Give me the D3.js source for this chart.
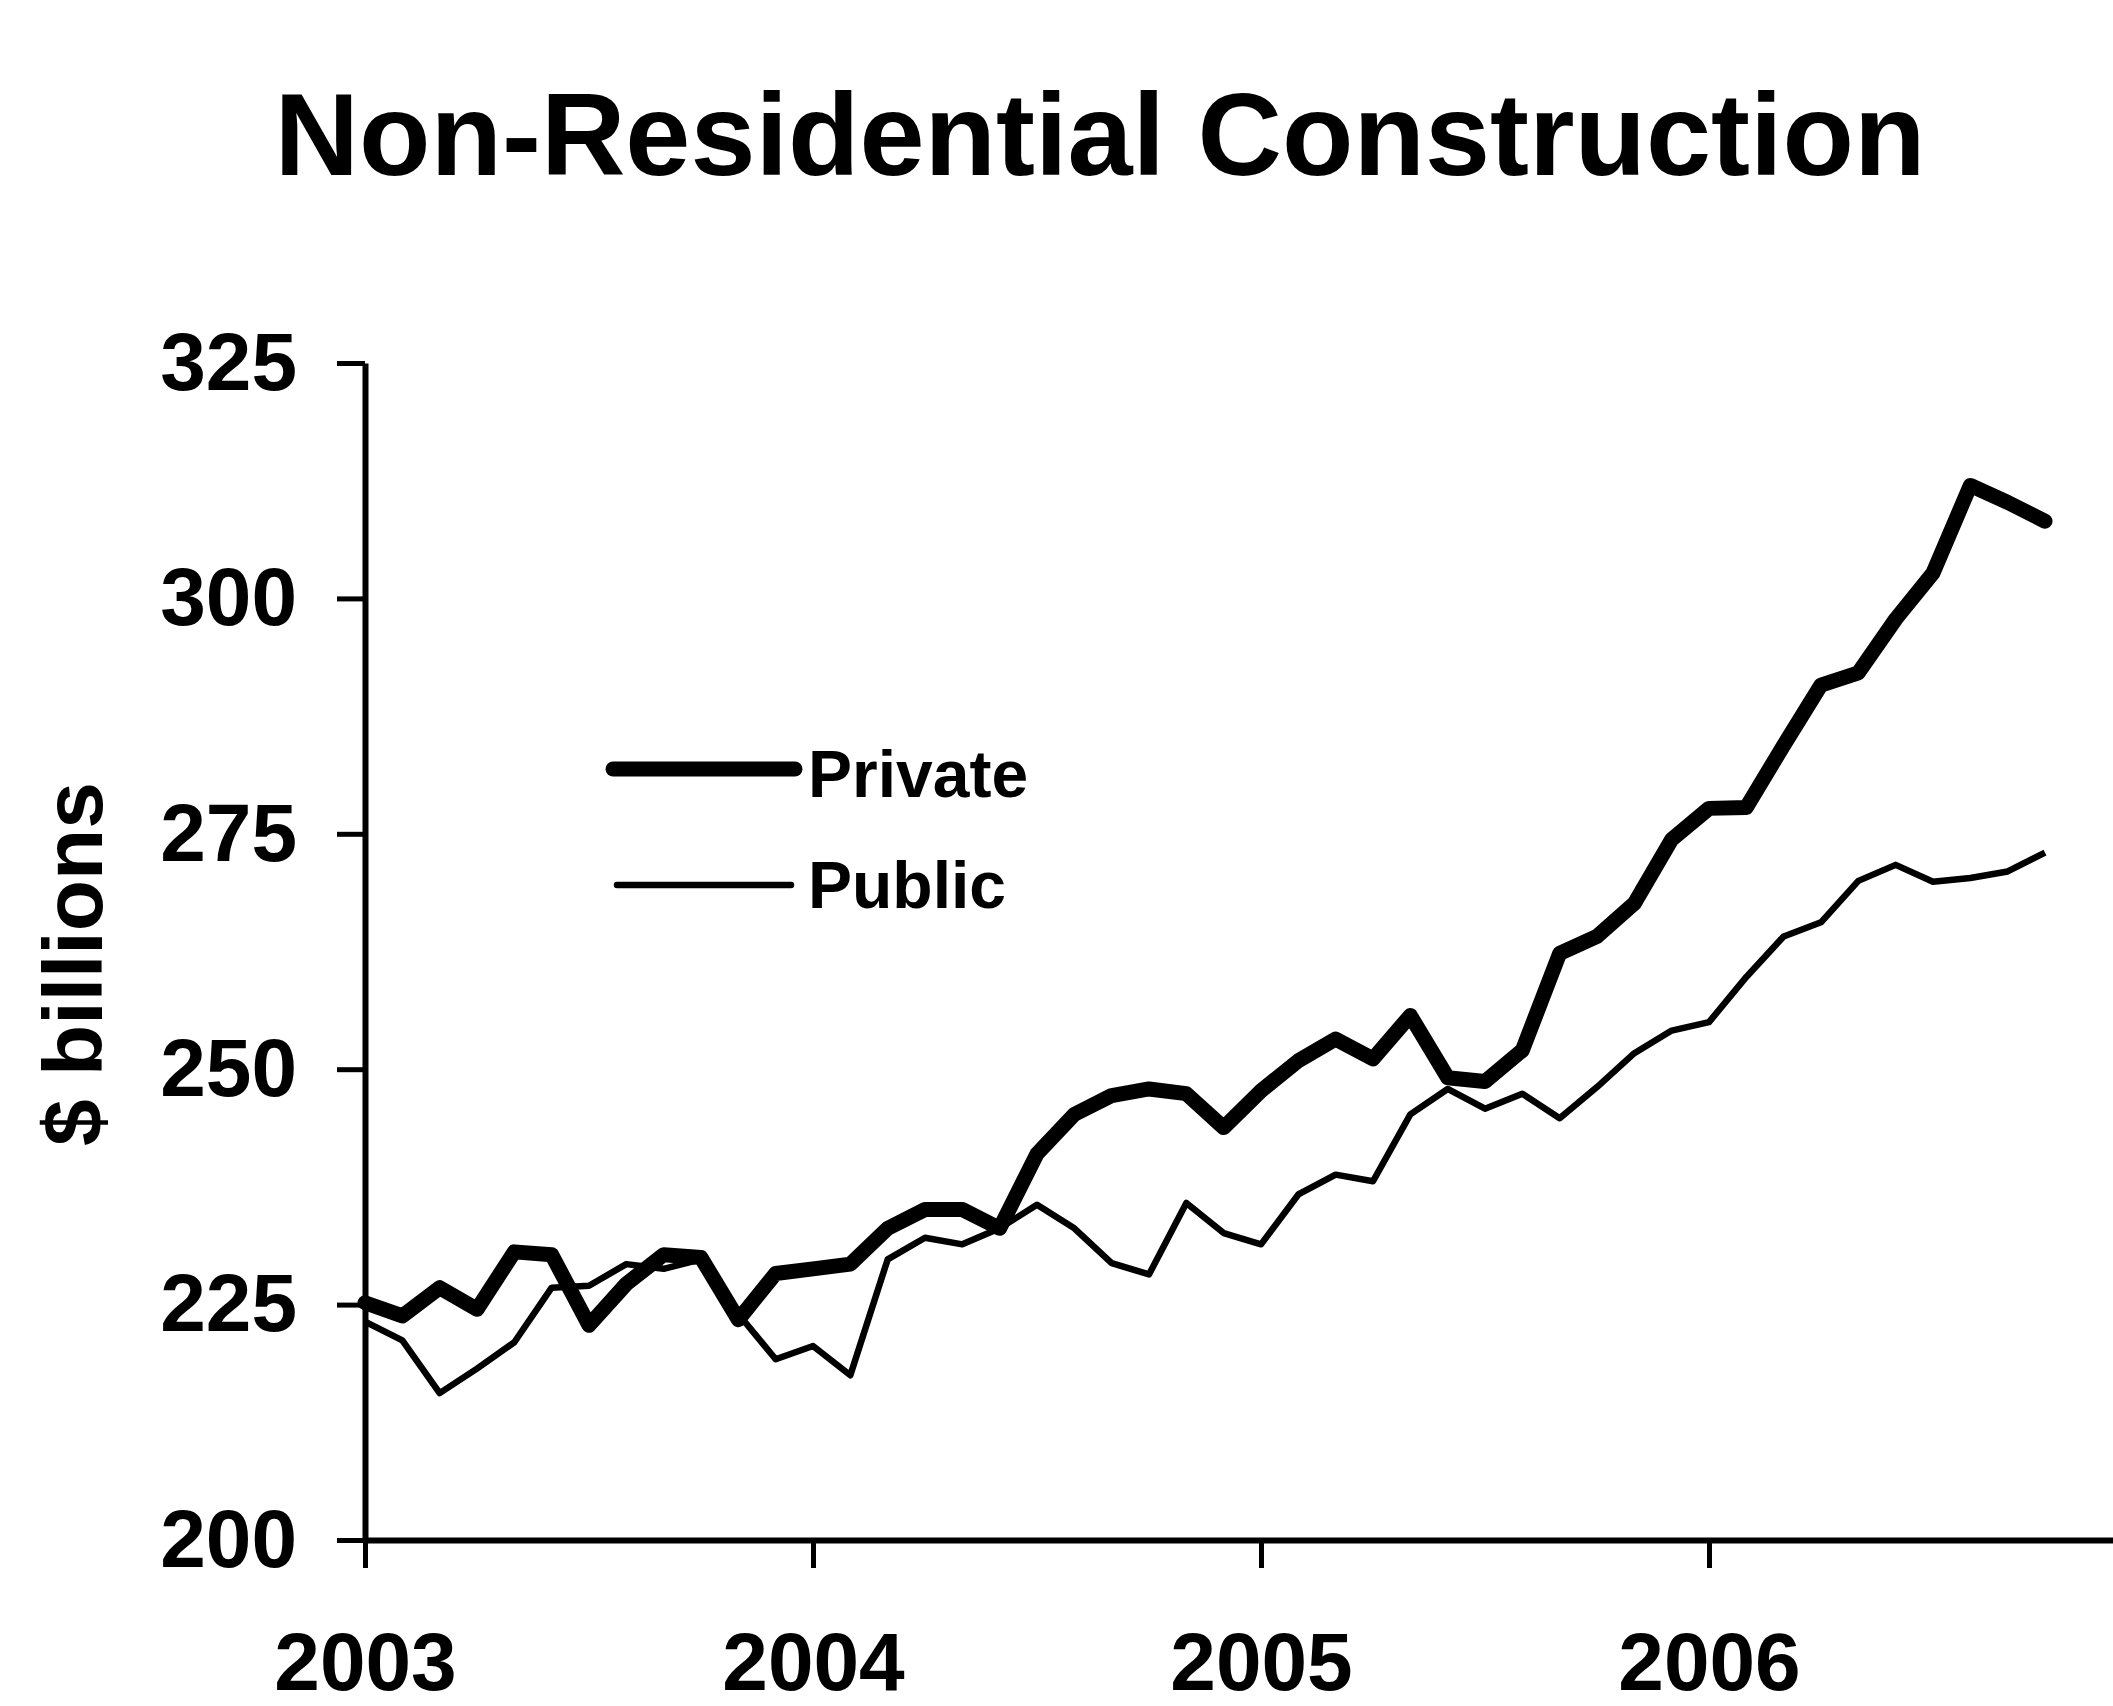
<!DOCTYPE html>
<html>
<head>
<meta charset="utf-8">
<script src="https://cdn.jsdelivr.net/npm/d3@7"></script>
<style>
  html, body { margin: 0; padding: 0; background: #fff; }
  svg text { font-family: "Liberation Sans", Arial, sans-serif; font-weight: bold; fill: #000; }
</style>
</head>
<body>
<div id="chart"></div>
<script>
// Monthly values, Jan 2003 - Oct 2006 ($ billions)
const yearLabels = ["2003", "2004", "2005", "2006"];
const yTicks = [200, 225, 250, 275, 300, 325];

const privateValues = [
    225.2, 223.8, 226.8, 224.5, 230.6, 230.3, 222.8, 227.2, 230.3, 230.0, 223.4, 228.3,
    228.8, 229.3, 233.1, 235.1, 235.1, 233.1, 241.0, 245.2, 247.2, 247.9, 247.4, 243.8,
    247.7, 250.9, 253.2, 251.1, 255.7, 249.1, 248.7, 252.0, 262.3, 264.1, 267.6, 274.4,
    277.7, 277.8, 284.4, 290.8, 292.1, 297.8, 302.7, 312.0, 310.2, 308.2
];
const publicValues = [
    223.2, 221.2, 215.6, 218.2, 221.0, 226.8, 227.0, 229.3, 228.8, 229.8, 224.0, 219.2,
    220.6, 217.5, 229.8, 232.1, 231.4, 233.1, 235.6, 233.1, 229.4, 228.2, 235.8, 232.6,
    231.4, 236.7, 238.8, 238.1, 245.2, 247.9, 245.8, 247.4, 244.8, 248.1, 251.7, 254.1,
    255.0, 259.8, 264.1, 265.6, 270.0, 271.7, 269.9, 270.3, 271.0, 273.0
];

const width = 2113, height = 1706;

const svg = d3.select("#chart")
    .append("svg")
    .attr("width", width)
    .attr("height", height);

// Title
svg.append("text")
    .attr("x", 1100)
    .attr("y", 175)
    .attr("text-anchor", "middle")
    .style("font-size", "117px")
    .text("Non-Residential Construction");

// Scales: month index on x, value on y
const x = d3.scaleLinear()
    .domain([0, 48])
    .range([365, 2157]);

const y = d3.scaleLinear()
    .domain([200, 325])
    .range([1540, 363]);

// Lines
const line = d3.line()
    .x((d, i) => x(i))
    .y(d => y(d));

svg.append("path")
    .datum(publicValues)
    .attr("fill", "none")
    .attr("stroke", "#000")
    .attr("stroke-width", 6.5)
    .attr("stroke-linejoin", "round")
    .attr("d", line);

svg.append("path")
    .datum(privateValues)
    .attr("fill", "none")
    .attr("stroke", "#000")
    .attr("stroke-width", 15)
    .attr("stroke-linejoin", "round")
    .attr("stroke-linecap", "round")
    .attr("d", line);

// Y axis
const yAxis = svg.append("g")
    .attr("transform", `translate(${x(0)},0)`)
    .call(d3.axisLeft(y)
        .tickValues(yTicks)
        .tickSize(28)
        .tickSizeOuter(0)
        .tickPadding(40));

// X axis
const xAxis = svg.append("g")
    .attr("transform", `translate(0,${y(200)})`)
    .call(d3.axisBottom(x)
        .tickValues(yearLabels.map((d, i) => i * 12))
        .tickFormat((d, i) => yearLabels[i])
        .tickSize(28)
        .tickSizeOuter(0)
        .tickPadding(64));

[yAxis, xAxis].forEach(g => {
    g.select(".domain").attr("stroke", "#000").attr("stroke-width", 6);
    g.selectAll(".tick line").attr("stroke", "#000").attr("stroke-width", 5);
    g.selectAll(".tick text")
        .style("font-size", "82px")
        .style("font-family", "'Liberation Sans', Arial, sans-serif")
        .style("font-weight", "bold")
        .attr("fill", "#000");
});

// Y axis title
svg.append("text")
    .attr("transform", "translate(102,964) rotate(-90)")
    .attr("text-anchor", "middle")
    .style("font-size", "84px")
    .text("$ billions");

// Legend
const legend = [
    { label: "Private", width: 15, x1: 613, x2: 795, y: 769, ty: 797 },
    { label: "Public", width: 6.5, x1: 617, x2: 791, y: 885, ty: 908 }
];

legend.forEach(d => {
    svg.append("line")
        .attr("x1", d.x1).attr("x2", d.x2)
        .attr("y1", d.y).attr("y2", d.y)
        .attr("stroke", "#000")
        .attr("stroke-width", d.width)
        .attr("stroke-linecap", "round");
    svg.append("text")
        .attr("x", 808)
        .attr("y", d.ty)
        .style("font-size", "66px")
        .text(d.label);
});
</script>
</body>
</html>
